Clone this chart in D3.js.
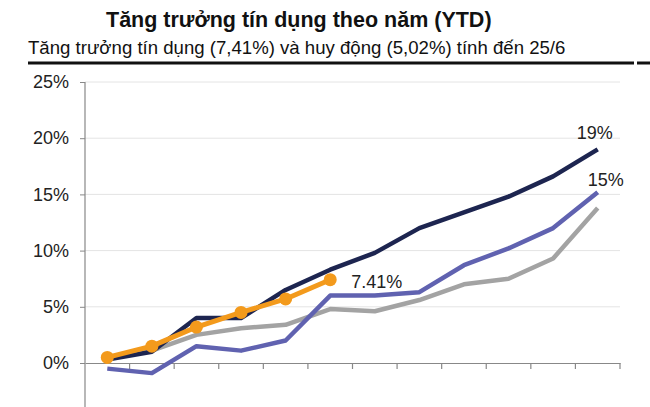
<!DOCTYPE html>
<html>
<head>
  <meta charset="utf-8">
  <title>Tăng trưởng tín dụng theo năm (YTD)</title>
  <script src="https://d3js.org/d3.v7.min.js"></script>
  <style>
    body { margin: 0; background: #fff; }
    text { font-family: "Liberation Sans", Arial, sans-serif; }
  </style>
</head>
<body>
  <svg width="650" height="407"></svg>
  <script>
// du lieu doc tu hinh (% tang truong tu dau nam)
const months = ['T1', 'T2', 'T3', 'T4', 'T5', 'T6', 'T7', 'T8', 'T9', 'T10', 'T11', 'T12'];
const yTicks = [0, 5, 10, 15, 20, 25];
const navy = [0.3, 1.0, 4.0, 4.0, 6.5, 8.3, 9.8, 12.0, 13.4, 14.8, 16.6, 19.0];
const purple = [-0.5, -0.9, 1.5, 1.1, 2.0, 6.0, 6.0, 6.3, 8.7, 10.2, 12.0, 15.2];
const gray = [0.4, 1.1, 2.5, 3.1, 3.4, 4.8, 4.6, 5.6, 7.0, 7.5, 9.3, 13.8];
const orange = [0.5, 1.5, 3.2, 4.5, 5.7, 7.41];

const svg = d3.select('svg');
const plotLeft = 85, plotRight = 620, plotTop = 82, zeroY = 363;

const x = d3.scaleBand().domain(months).range([plotLeft, plotRight]);
const y = d3.scaleLinear().domain([0, 25]).range([zeroY, plotTop]);

// tieu de
svg.append('text')
  .attr('x', 106).attr('y', 27)
  .attr('font-size', 21.5).attr('font-weight', 'bold').attr('fill', '#111')
  .text('Tăng trưởng tín dụng theo năm (YTD)');
svg.append('text')
  .attr('x', 28).attr('y', 54)
  .attr('font-size', 18.6).attr('fill', '#111')
  .text('Tăng trưởng tín dụng (7,41%) và huy động (5,02%) tính đến 25/6');
svg.append('line')
  .attr('x1', 28).attr('x2', 634).attr('y1', 63).attr('y2', 63)
  .attr('stroke', '#111').attr('stroke-width', 3);
svg.append('line')
  .attr('x1', 637).attr('x2', 650).attr('y1', 63).attr('y2', 63)
  .attr('stroke', '#111').attr('stroke-width', 3);

// luoi
svg.append('g').selectAll('line')
  .data(yTicks.filter(d => d > 0))
  .join('line')
  .attr('x1', plotLeft).attr('x2', plotRight)
  .attr('y1', d => y(d)).attr('y2', d => y(d))
  .attr('stroke', '#e4e4e4').attr('stroke-width', 1);

// truc y
const yAxis = svg.append('g')
  .attr('transform', `translate(${plotLeft},0)`)
  .call(d3.axisLeft(y).tickValues(yTicks).tickSize(5).tickPadding(11).tickFormat(d => d + '%'));
yAxis.select('.domain').remove();
yAxis.selectAll('line').attr('stroke', '#888');
yAxis.selectAll('text').attr('font-size', 18).attr('fill', '#222')
  .style('font-family', '"Liberation Sans", Arial, sans-serif');
svg.append('line')
  .attr('x1', plotLeft).attr('x2', plotLeft).attr('y1', plotTop).attr('y2', 407)
  .attr('stroke', '#888').attr('stroke-width', 1.2);

// truc x tai 0%
const xAxis = svg.append('g')
  .attr('transform', `translate(0,${zeroY})`)
  .call(d3.axisBottom(x).tickSize(0).tickFormat(''));
xAxis.select('.domain').attr('stroke', '#888').attr('stroke-width', 1.2);
svg.append('g').selectAll('line')
  .data(months)
  .join('line')
  .attr('x1', d => x(d) + x.bandwidth()).attr('x2', d => x(d) + x.bandwidth())
  .attr('y1', zeroY).attr('y2', zeroY + 6)
  .attr('stroke', '#888').attr('stroke-width', 1.2);

const line = d3.line()
  .x((d, i) => x(months[i]) + x.bandwidth() / 2)
  .y(d => y(d));

const series = [
  { values: gray, color: '#a3a3a3', w: 4.5 },
  { values: purple, color: '#6062b0', w: 4.5 },
  { values: navy, color: '#1d2550', w: 4.5 },
  { values: orange, color: '#f39a1c', w: 5 }
];
svg.append('g').selectAll('path')
  .data(series)
  .join('path')
  .attr('d', d => line(d.values))
  .attr('fill', 'none')
  .attr('stroke', d => d.color)
  .attr('stroke-width', d => d.w)
  .attr('stroke-linejoin', 'round');

svg.append('g').selectAll('circle')
  .data(orange)
  .join('circle')
  .attr('cx', (d, i) => x(months[i]) + x.bandwidth() / 2)
  .attr('cy', d => y(d))
  .attr('r', 6.5)
  .attr('fill', '#f39a1c');

// nhan cuoi duong
const last = months.length - 1;
const labels = [
  { text: '19%', m: last, v: navy[last], dx: -21, dy: -10 },
  { text: '15%', m: last, v: purple[last], dx: -10, dy: -6 },
  { text: '7.41%', m: orange.length - 1, v: orange[orange.length - 1], dx: 21, dy: 8 }
];
svg.append('g').selectAll('text')
  .data(labels)
  .join('text')
  .attr('x', d => x(months[d.m]) + x.bandwidth() / 2 + d.dx)
  .attr('y', d => y(d.v) + d.dy)
  .attr('font-size', 18).attr('fill', '#222')
  .text(d => d.text);
  </script>
</body>
</html>
